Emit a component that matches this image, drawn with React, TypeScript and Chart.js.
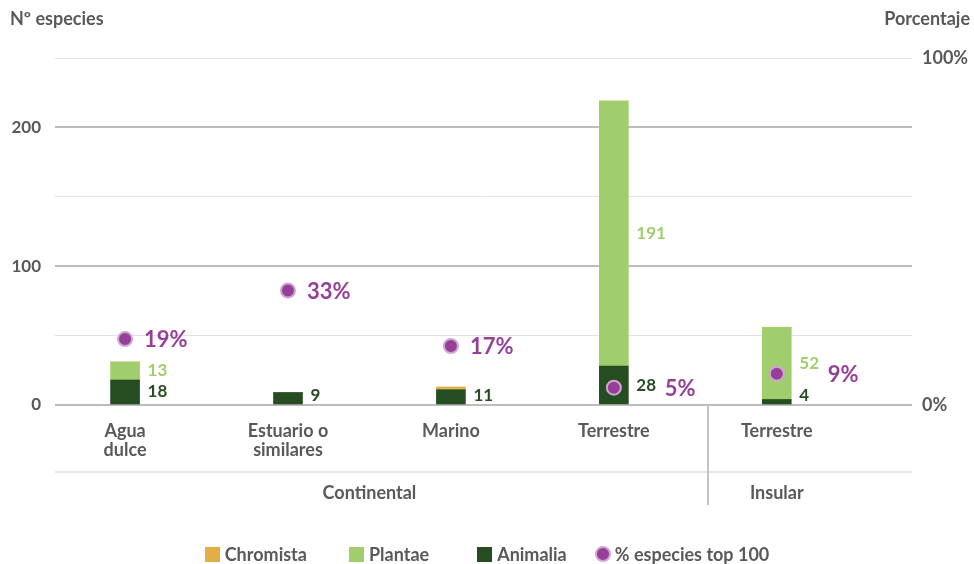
import React, { useEffect, useRef } from 'react';
import { Chart, registerables } from 'chart.js';

Chart.register(...registerables);

// ---- data ----
const categories: string[][] = [['Agua', 'dulce'], ['Estuario o', 'similares'], ['Marino'], ['Terrestre'], ['Terrestre']];
const groups = ['Continental', 'Insular'];
const groupOfCategory = [0, 0, 0, 0, 1];
const groupBoundary = 3.575;
const animalia = [18, 9, 11, 28, 4];
const plantae = [13, 0, 0, 191, 52];
const chromista = [0, 0, 2, 0, 0];
const pctTop100 = [19, 33, 17, 5, 9];
const leftTickLabels = [0, 100, 200];
const rightTickLabels = [0, 100];
const seriesNames = ['Chromista', 'Plantae', 'Animalia', '% especies top 100'];

// ---- style ----
const FONT = 'Lato, "Open Sans", sans-serif';
const GRAY = '#595959';
const C_CHROM = '#E4AE47';
const C_PLANT = '#A0CE6C';
const C_ANIM = '#264D22';
const C_PURPLE = '#963F99';
const C_RING = '#CDA6D2';

const labelsPlugin = {
  id: 'customLabels',
  afterDatasetsDraw(chart: any) {
    const ctx = chart.ctx;
    ctx.save();
    ctx.textBaseline = 'middle';
    ctx.textAlign = 'left';
    chart.data.datasets.forEach((ds: any, di: number) => {
      if (!ds.showValueLabels) return;
      const meta = chart.getDatasetMeta(di);
      meta.data.forEach((bar: any, i: number) => {
        const v = ds.data[i].y;
        if (!v) return;
        const p = bar.getProps(['x', 'y', 'base', 'width'], true);
        const y = Math.min((p.y + p.base) / 2, p.base - 8);
        ctx.font = `700 17px ${FONT}`;
        ctx.fillStyle = ds.labelColor;
        ctx.fillText(String(v), p.x + p.width / 2 + 8, y);
      });
    });
    const pi = chart.data.datasets.findIndex((d: any) => d.isPct);
    const pmeta = chart.getDatasetMeta(pi);
    pmeta.data.forEach((pt: any, i: number) => {
      let top = chart.chartArea.bottom;
      chart.data.datasets.forEach((ds: any, di: number) => {
        if (ds.isPct) return;
        if (!ds.data[i].y) return;
        const b = chart.getDatasetMeta(di).data[i];
        top = Math.min(top, b.y);
      });
      const inside = pt.y > top;
      ctx.font = `700 22px ${FONT}`;
      ctx.fillStyle = C_PURPLE;
      ctx.fillText(pctTop100[i] + '%', pt.x + (inside ? 51 : 19), pt.y + 1);
    });
    ctx.restore();
  },
  afterDraw(chart: any) {
    const ctx = chart.ctx;
    const xs = chart.scales.x;
    const area = chart.chartArea;
    ctx.save();
    ctx.strokeStyle = '#DEDEDE';
    ctx.lineWidth = 1.5;
    ctx.beginPath();
    ctx.moveTo(area.left, area.bottom + 67);
    ctx.lineTo(area.right, area.bottom + 67);
    ctx.stroke();
    const bx = Math.round(xs.getPixelForValue(groupBoundary));
    ctx.strokeStyle = '#C3C3C3';
    ctx.lineWidth = 2;
    ctx.beginPath();
    ctx.moveTo(bx, area.bottom);
    ctx.lineTo(bx, area.bottom + 100);
    ctx.stroke();
    ctx.font = `700 18px ${FONT}`;
    ctx.fillStyle = GRAY;
    ctx.textAlign = 'center';
    ctx.textBaseline = 'middle';
    groups.forEach((g, gi) => {
      const idx = groupOfCategory.map((v, i) => (v === gi ? i : -1)).filter((i) => i >= 0);
      const cx = idx.reduce((s, i) => s + xs.getPixelForValue(i), 0) / idx.length;
      ctx.fillText(g, cx, area.bottom + 88);
    });
    ctx.restore();
  },
};

export default function App() {
  const ref = useRef<HTMLCanvasElement>(null);
  useEffect(() => {
    document.body.style.margin = '0';
    const toXY = (arr: number[]) => arr.map((y, x) => ({ x, y }));
    const chart = new Chart(ref.current as HTMLCanvasElement, {
      type: 'bar',
      data: {
        datasets: [
          {
            type: 'line',
            label: seriesNames[3],
            data: toXY(pctTop100),
            yAxisID: 'y2',
            showLine: false,
            pointRadius: 7,
            pointBorderWidth: 2,
            pointBackgroundColor: C_PURPLE,
            pointBorderColor: C_RING,
            isPct: true,
          } as any,
          {
            label: seriesNames[2],
            data: toXY(animalia),
            backgroundColor: C_ANIM,
            barThickness: 29,
            showValueLabels: true,
            labelColor: C_ANIM,
          } as any,
          {
            label: seriesNames[1],
            data: toXY(plantae),
            backgroundColor: C_PLANT,
            barThickness: 29,
            showValueLabels: true,
            labelColor: C_PLANT,
          } as any,
          {
            label: seriesNames[0],
            data: toXY(chromista),
            backgroundColor: C_CHROM,
            barThickness: 29,
          } as any,
        ],
      },
      options: {
        animation: false,
        responsive: false,
        layout: { padding: { top: 58, bottom: 0, left: 0, right: 0 } },
        plugins: { legend: { display: false }, tooltip: { enabled: false } },
        scales: {
          x: {
            type: 'linear',
            offset: false,
            min: -0.43,
            max: 4.83,
            stacked: true,
            grid: { display: false, drawTicks: false, offset: false },
            border: { display: false },
            afterBuildTicks: (s: any) => {
              s.ticks = categories.map((_, i) => ({ value: i }));
            },
            afterFit: (s: any) => {
              s.height = 159;
            },
            ticks: {
              autoSkip: false,
              maxRotation: 0,
              padding: 16,
              color: GRAY,
              font: { family: FONT, size: 18, weight: 'bold', lineHeight: 1.08 },
              callback: (v: any) => categories[v] ?? '',
            },
          },
          y: {
            position: 'left',
            min: 0,
            max: 250,
            stacked: true,
            border: { display: false },
            grid: {
              drawTicks: false,
              color: (c: any) => (c.tick && c.tick.value % 100 === 0 ? '#BDBDBD' : '#E2E2E2'),
              lineWidth: (c: any) => (c.tick && c.tick.value % 100 === 0 ? 2 : 1),
            },
            afterFit: (s: any) => {
              s.width = 55;
            },
            ticks: {
              stepSize: 50,
              padding: 14,
              color: GRAY,
              font: { family: FONT, size: 17, weight: 'bold' },
              callback: (v: any) => (leftTickLabels.includes(v) ? String(v) : ''),
            },
          },
          y2: {
            position: 'right',
            min: 0,
            max: 100,
            border: { display: false },
            grid: { display: false, drawTicks: false },
            afterBuildTicks: (s: any) => {
              s.ticks = rightTickLabels.map((v) => ({ value: v }));
            },
            afterFit: (s: any) => {
              s.width = 62;
            },
            ticks: {
              padding: 10,
              color: GRAY,
              font: { family: FONT, size: 18, weight: 'bold' },
              callback: (v: any) => v + '%',
            },
          },
        },
      } as any,
      plugins: [labelsPlugin],
    });
    return () => chart.destroy();
  }, []);

  const legendItems = [
    { name: seriesNames[0], color: C_CHROM, circle: false },
    { name: seriesNames[1], color: C_PLANT, circle: false },
    { name: seriesNames[2], color: C_ANIM, circle: false },
    { name: seriesNames[3], color: C_PURPLE, circle: true },
  ];
  const legendGaps = [42, 48, 28, 0];

  const textStyle: React.CSSProperties = { fontFamily: FONT, fontWeight: 700, color: GRAY };

  return (
    <div style={{ position: 'fixed', left: 0, top: 0, width: 974, height: 564, background: '#fff' }}>
      <canvas ref={ref} width={974} height={564} style={{ position: 'absolute', left: 0, top: 0, width: 974, height: 564 }} />
      <div style={{ ...textStyle, fontSize: 18, position: 'absolute', left: 10, top: 7, lineHeight: '22px' }}>Nº especies</div>
      <div style={{ ...textStyle, fontSize: 18, position: 'absolute', right: 4, top: 7, lineHeight: '22px' }}>Porcentaje</div>
      <div style={{ position: 'absolute', left: 0, width: 974, top: 543, height: 22, display: 'flex', alignItems: 'center', justifyContent: 'center' }}>
        {legendItems.map((it, k) => (
          <div key={it.name} style={{ display: 'flex', alignItems: 'center', marginRight: legendGaps[k] }}>
            {it.circle ? (
              <span style={{ width: 12, height: 12, borderRadius: '50%', background: it.color, border: `2.5px solid ${C_RING}`, marginRight: 4 }} />
            ) : (
              <span style={{ width: 15, height: 15, background: it.color, marginRight: 5 }} />
            )}
            <span style={{ ...textStyle, fontSize: 18, lineHeight: '22px' }}>{it.name}</span>
          </div>
        ))}
      </div>
    </div>
  );
}
